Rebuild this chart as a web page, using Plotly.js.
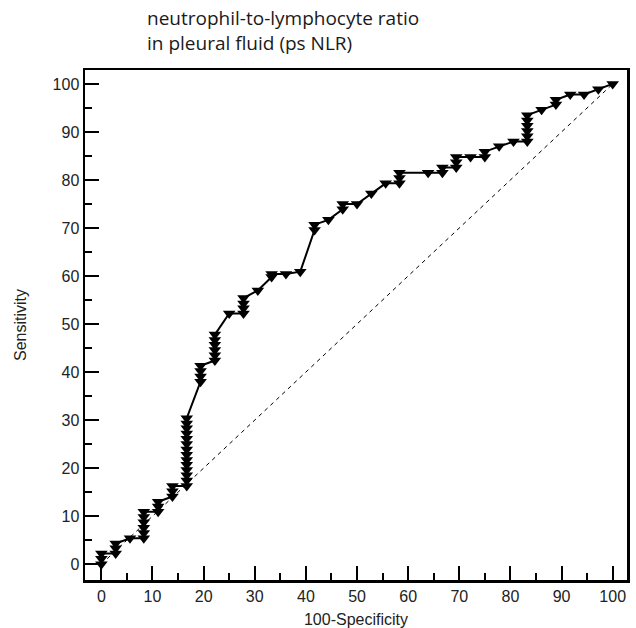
<!DOCTYPE html>
<html>
<head>
<meta charset="utf-8">
<script src="https://cdn.plot.ly/plotly-3.0.1.min.js"></script>
<style>
  html, body { margin: 0; padding: 0; background: #fff; }
  #chart { width: 636px; height: 628px; }
</style>
</head>
<body>
<div id="chart"></div>
<script>
// ROC curve points (100-Specificity, Sensitivity)
const fpr = [
  0, 0, 0,
  2.8, 2.8, 2.8,
  5.6,
  8.3, 8.3, 8.3, 8.3, 8.3, 8.3,
  11.1, 11.1, 11.1,
  13.9, 13.9, 13.9,
  16.7, 16.7, 16.7, 16.7, 16.7, 16.7, 16.7, 16.7, 16.7, 16.7, 16.7, 16.7, 16.7, 16.7,
  19.4, 19.4, 19.4, 19.4,
  22.2, 22.2, 22.2, 22.2, 22.2, 22.2,
  25.0,
  27.8, 27.8, 27.8, 27.8,
  30.6,
  33.3, 33.3,
  36.1,
  38.9,
  41.7, 41.7,
  44.4,
  47.2, 47.2,
  50.0,
  52.8,
  55.6,
  58.3, 58.3, 58.3,
  63.9,
  66.7, 66.7,
  69.4, 69.4, 69.4,
  72.2,
  75.0, 75.0,
  77.8,
  80.6,
  83.3, 83.3, 83.3, 83.3, 83.3, 83.3,
  86.1,
  88.9, 88.9,
  91.7,
  94.4,
  97.2,
  100
];
const tpr = [
  0, 1.1, 2.2,
  2.2, 3.3, 4.3,
  5.4,
  5.4, 6.5, 7.6, 8.7, 9.8, 10.9,
  10.9, 12.0, 13.0,
  14.1, 15.2, 16.3,
  16.3, 17.4, 18.5, 19.6, 20.7, 21.7, 22.8, 23.9, 25.0, 26.1, 27.2, 28.3, 29.3, 30.4,
  38.0, 39.1, 40.2, 41.3,
  42.4, 43.5, 44.6, 45.7, 46.7, 47.8,
  52.2,
  52.2, 53.3, 54.3, 55.4,
  57.0,
  59.8, 60.4,
  60.4,
  60.9,
  69.6, 70.7,
  71.7,
  73.9, 75.0,
  75.0,
  77.2,
  79.3,
  79.3, 80.4, 81.5,
  81.5,
  81.5, 82.6,
  82.6, 83.7, 84.8,
  84.8,
  84.8, 85.9,
  87.0,
  88.0,
  88.0, 89.1, 90.2, 91.3, 92.4, 93.5,
  94.6,
  95.7, 96.7,
  97.8,
  97.8,
  98.9,
  100
];
// Reference (chance) line
const refX = [0, 100];
const refY = [0, 100];

const xTickVals = [0, 10, 20, 30, 40, 50, 60, 70, 80, 90, 100];
const yTickVals = [0, 10, 20, 30, 40, 50, 60, 70, 80, 90, 100];

const titleLines = ['neutrophil-to-lymphocyte ratio', 'in pleural fluid (ps NLR)'];

const traces = [
  {
    x: refX, y: refY, type: 'scatter', mode: 'lines',
    line: { color: '#000', width: 1, dash: '4px,4px' },
    hoverinfo: 'skip', showlegend: false
  },
  {
    x: fpr, y: tpr, type: 'scatter', mode: 'lines+markers',
    line: { color: '#000', width: 2 },
    marker: { symbol: 'triangle-down', size: 11, color: '#000', line: { width: 0 } },
    showlegend: false
  }
];

const axisFont = { family: 'Arial, "Liberation Sans", sans-serif', size: 16, color: '#222' };

const layout = {
  width: 636, height: 628,
  paper_bgcolor: '#fff', plot_bgcolor: '#fff',
  margin: { l: 85, r: 9, t: 70, b: 48 },
  annotations: [{
    text: titleLines.join('<br>'),
    xref: 'paper', yref: 'paper',
    x: (145 - 85) / 542, xanchor: 'left', align: 'left',
    y: 1 + 67 / 510, yanchor: 'top',
    showarrow: false,
    font: { family: '"Open Sans", "Noto Sans", sans-serif', size: 19, color: '#1a1a1a' }
  }],
  xaxis: {
    range: [-3.2, 102.8],
    tickvals: xTickVals, ticktext: xTickVals.map(String),
    ticks: 'inside', ticklen: 14, tickwidth: 2, tickcolor: '#000',
    minor: { dtick: 5, tick0: 0, ticks: 'inside', ticklen: 7, tickwidth: 2, tickcolor: '#000', showgrid: false },
    showline: true, linewidth: 2.5, linecolor: '#000', mirror: true,
    showgrid: false, zeroline: false,
    tickfont: axisFont,
    title: { text: '100-Specificity', font: axisFont, standoff: 10 },
    automargin: false
  },
  yaxis: {
    range: [-3.3, 102.9],
    tickvals: yTickVals, ticktext: yTickVals.map(String),
    ticks: 'inside', ticklen: 14, tickwidth: 2, tickcolor: '#000',
    minor: { dtick: 5, tick0: 0, ticks: 'inside', ticklen: 7, tickwidth: 2, tickcolor: '#000', showgrid: false },
    showline: true, linewidth: 2.5, linecolor: '#000', mirror: true,
    showgrid: false, zeroline: false,
    tickfont: axisFont,
    title: { text: 'Sensitivity', font: axisFont, standoff: 22 },
    automargin: false
  }
};

Plotly.newPlot('chart', traces, layout, { displayModeBar: false, staticPlot: true });
</script>
</body>
</html>
